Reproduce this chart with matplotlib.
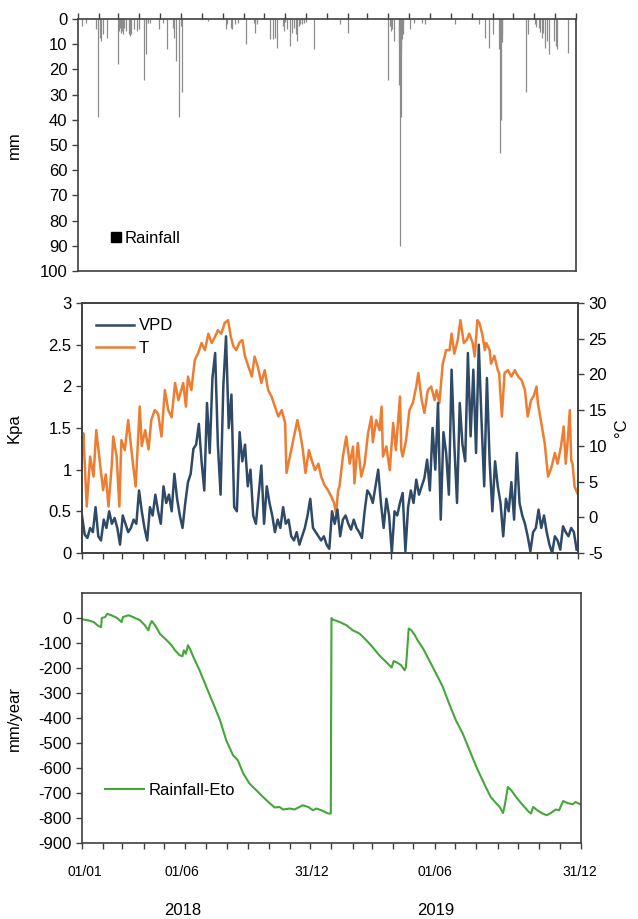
import matplotlib.pyplot as plt
import matplotlib.dates as mdates
from matplotlib.lines import Line2D
import numpy as np
import pandas as pd

plt.rcParams['font.family'] = ['Liberation Sans', 'DejaVu Sans']
plt.rcParams['axes.unicode_minus'] = False

start = pd.Timestamp('2018-01-01')

# daily rainfall events (day since 01/01/2018, mm)
rain_day = [6, 11, 26, 29, 32, 34, 36, 43, 58, 60, 61, 63, 64, 66, 68, 70,
            74, 76, 78, 82, 87, 90, 97, 99, 100, 102, 105, 118, 125, 130, 139, 141,
            143, 148, 151, 153, 191, 217, 219, 224, 226, 230, 235, 246, 258, 260, 263, 282,
            286, 289, 291, 300, 302, 303, 307, 311, 313, 317, 319, 321, 324, 326, 329, 331,
            334, 346,
            384, 396, 454, 457, 459, 460, 463, 470, 471, 472, 473, 474, 475, 476, 477, 486,
            492, 504, 508, 552, 588, 596, 602, 608, 617, 618, 619, 620, 621, 622, 657, 659,
            670, 672, 675, 677, 680, 682, 685, 687, 690, 698, 700, 702, 718]
rain_mm = [2.8, 1.5, 4, 39, 7.4, 8.8, 6, 7.4, 17.8, 4.8, 3.5, 5.5, 4.8, 6, 3.5, 4.8,
           6, 6.8, 6, 4, 4.8, 4, 24, 2, 14, 1.5, 1.5, 4, 1.5, 12, 3.5, 7.4,
           16.7, 38.7, 2.8, 29, 0.8, 4, 2, 3.5, 4, 2, 1.5, 10, 1.5, 5.4, 2, 8,
           8, 7.4, 11.4, 2.8, 4.8, 1, 4, 10.7, 5.5, 3.5, 6, 8.8, 2.8, 2, 2, 1.5,
           1, 12,
           1.9, 5.4, 24, 2.8, 4.8, 4, 8.8, 10, 26, 90, 39, 12, 8, 6, 2, 4,
           1.5, 1.5, 2, 2, 2, 7.4, 11.4, 6, 12, 10, 53, 40, 9, 6, 29, 6,
           2, 3, 3.5, 5, 7.4, 5.5, 11.4, 8.8, 14, 8.8, 10.7, 12, 13.5]

# VPD (kPa), every 4 days
vpd_day = np.arange(0, 729, 4)
vpd = [0.45, 0.22, 0.18, 0.3, 0.25, 0.55, 0.2, 0.15, 0.4, 0.3, 0.5, 0.35, 0.42, 0.3, 0.1, 0.45,
       0.35, 0.25, 0.3, 0.4, 0.35, 0.75, 0.5, 0.3, 0.15, 0.55, 0.45, 0.7, 0.5, 0.35, 0.8, 0.6,
       0.7, 0.5, 0.95, 0.65, 0.45, 0.3, 0.6, 0.85, 0.95, 1.25, 1.3, 1.55, 1.1,
       0.75, 1.8, 1.2, 2.1, 2.4, 1.3, 0.7, 2.0, 2.6, 1.5, 1.9, 0.55, 0.5, 1.45, 1.1, 1.3,
       0.8, 1.0, 0.45, 0.35, 0.7, 1.05, 0.35, 0.8, 0.6, 0.45, 0.25, 0.4, 0.3, 0.55, 0.35, 0.4,
       0.2, 0.15, 0.25, 0.1, 0.2, 0.3, 0.45, 0.65, 0.3, 0.25, 0.2, 0.15, 0.2, 0.1, 0.05,
       0.5, 0.35, 0.52, 0.2, 0.4, 0.45, 0.35, 0.28, 0.4, 0.3, 0.25, 0.18, 0.5, 0.75, 0.7, 0.6,
       0.8, 1.0, 0.6, 0.3, 0.65, 0.45, 0.0, 0.5, 0.45, 0.6, 0.72, 0.02, 0.55, 0.75, 0.6, 0.88,
       0.7, 0.8, 0.9, 1.12, 0.75, 1.5, 1.0, 1.8, 0.4, 1.45, 1.2, 0.7, 2.2, 1.3, 0.6,
       1.8, 1.3, 1.1, 2.4, 1.4, 2.2, 1.2, 2.5, 1.6, 0.8, 2.1, 1.1, 0.5, 1.1, 0.8, 0.6,
       0.2, 0.65, 0.5, 0.85, 0.4, 1.2, 0.6, 0.45, 0.35, 0.2, 0.02, 0.25, 0.3, 0.52, 0.3, 0.45,
       0.25, 0.1, 0.0, 0.2, 0.15, 0.04, 0.32, 0.25, 0.2, 0.3, 0.25, 0.04]

# air temperature (°C)
t_day = [0, 2, 7, 12, 17, 21, 26, 31, 35, 39, 44, 46, 51, 55, 58, 63, 68, 71, 75, 79,
         85, 88, 93, 98, 102, 107, 112, 117, 122, 127, 132, 137, 142, 149, 153, 156, 161, 166, 171, 176,
         181, 186, 191, 196, 200, 205, 210, 215, 219, 223, 227, 232, 236, 240, 245, 250, 254, 259, 264, 269,
         274, 279, 284, 289, 294, 299, 301, 306, 311, 317, 321, 325, 329, 334, 338, 343, 348, 352, 357, 362,
         367, 371, 374, 377, 379, 384, 389, 394, 399, 401, 406, 411, 416, 421, 426, 428, 433, 438, 441, 443,
         448, 453, 458, 462, 468, 470, 472, 477, 482, 487, 492, 495, 500, 504, 509, 514, 519, 522, 526, 531,
         536, 541, 544, 548, 553, 557, 562, 566, 570, 575, 578, 582, 585, 589, 593, 595, 600, 602, 607, 612,
         614, 618, 622, 627, 632, 637, 642, 647, 652, 656, 661, 665, 669, 671, 676, 681, 686, 691, 696, 700,
         705, 709, 712, 715, 718, 720, 722, 725, 729]
temp = [9, 11.75, 1.5, 8.5, 5.7, 12.2, 8, 3.8, 6, 1.5, 7.5, 11.3, 8.5, 1.5, 10.8, 9.4, 13.6, 11, 7.5, 4.3,
        15.5, 10, 12.2, 9.5, 13.6, 15, 14.5, 11.3, 17.8, 15, 14, 18.8, 16.4, 18.8, 15.5, 19.7, 17.8, 22, 23, 24.4,
        23.4, 25.7, 24.4, 25.3, 26.2, 25.7, 27.2, 27.6, 25.3, 23.9, 23.4, 24.5, 24.8, 22.5, 21.1, 19.7, 22.5, 21, 18.8, 20.6,
        17.8, 16.9, 15.5, 14.1, 15, 13.2, 6.2, 8.5, 10.8, 13.6, 11.8, 9.5, 6.2, 9.4, 8, 6.6, 7.5, 5.7, 4.5, 3.8,
        2.9, 2, 0.55, 3.8, 4.3, 8.5, 11.3, 7.5, 9.9, 4.75, 10.4, 5.7, 7.5, 11.75, 14.1, 10.5, 13.6, 12.2, 15.5, 8.5,
        9.9, 6.6, 13.2, 9.4, 16.9, 9.4, 8.5, 10.8, 15, 16, 18.3, 20.2, 16.4, 14.6, 17.8, 18.3, 16.4, 17.8, 16, 21.5,
        23.4, 23.4, 25.7, 22.9, 24.8, 27.6, 24.4, 24.8, 25.7, 24.4, 22.5, 27.6, 27.2, 25.7, 23.4, 24.4, 23.4, 21.5, 22.6, 20.6,
        20.2, 14.1, 20.2, 20.6, 19.7, 20.6, 19.7, 19.2, 17.8, 14.1, 16.4, 17, 18.3, 16, 13.2, 10.4, 5.7, 7, 9, 7.5,
        9.9, 12.7, 7.5, 10.8, 15, 8, 7.5, 4.3, 3.4]

# cumulative Rainfall - ETo (mm), reset each year
bal_day = [0, 9, 17, 24, 28, 29, 34, 37, 43, 51, 58, 60, 68, 73, 77, 85, 92, 97, 99, 102,
           107, 114, 124, 131, 136, 143, 147, 149, 152, 155, 158, 163, 172, 182, 192, 202, 211, 221, 228, 236,
           245, 255, 265, 275, 282, 289, 294, 304, 311, 318, 323, 331, 338, 343, 350, 360, 364,
           365, 367, 377, 387, 396, 406, 416, 425, 435, 445, 453, 456, 462, 467, 472, 474, 478, 482,
           487, 491, 499, 508, 518, 528, 537, 547, 557, 567, 577, 586, 593, 598, 603, 611, 616, 619, 623,
           628, 635, 645, 654, 657, 660, 666, 674, 680, 686, 693, 698, 704, 710, 718, 722, 729]
bal = [-5, -9, -16, -32, -36, 0, 4, 17, 11, 1, -16, 4, 11, 6, 1, -9, -29, -49, -30, -12,
       -29, -63, -89, -109, -129, -149, -153, -129, -143, -109, -123, -156, -209, -276, -342, -409, -489, -549, -569, -622,
       -662, -689, -716, -742, -758, -756, -766, -762, -766, -756, -749, -756, -769, -762, -769, -782, -782,
       0, -6, -16, -29, -49, -62, -89, -116, -149, -176, -198, -172, -180, -189, -209, -196, -42, -49,
       -69, -89, -122, -169, -222, -276, -342, -409, -462, -529, -596, -649, -689, -716, -732, -756, -780, -742, -676,
       -689, -716, -749, -776, -782, -756, -769, -782, -789, -780, -766, -769, -732, -740, -745, -736, -745]

# bottom axis labels
xlab_text = ['01/01', '01/06', '31/12', '01/06', '31/12']
xlab_day = [4, 146, 336, 517, 728]
year_text = ['2018', '2019']
year_day = [148, 517]


def to_date(days):
    return start + pd.to_timedelta(np.asarray(days), unit='D')


spine_c = '#404040'
fs = 12
x0, x1 = pd.Timestamp('2018-01-01'), pd.Timestamp('2020-01-01')


def style(ax):
    for s in ax.spines.values():
        s.set_color(spine_c)
        s.set_linewidth(1.2)
    ax.set_xlim(x0, x1)
    ax.xaxis.set_major_locator(mdates.MonthLocator())
    ax.tick_params(axis='both', colors=spine_c, labelcolor='black', labelsize=fs,
                   direction='out', length=4, width=1)
    ax.tick_params(axis='x', labelbottom=False, labeltop=False)


fig = plt.figure(figsize=(6.38, 9.19), dpi=100)

# rainfall
ax1 = fig.add_axes([0.1223, 0.7051, 0.7806, 0.2742])
ax1.vlines(to_date(rain_day), 0, rain_mm, color='#8c8c8c', lw=0.9)
style(ax1)
ax1.set_ylim(100, 0)
ax1.set_yticks(range(0, 101, 10))
ax1.xaxis.tick_top()
ax1.tick_params(axis='x', labeltop=False)
ax1.set_ylabel('mm', fontsize=fs)
ax1.yaxis.set_label_coords(-0.112, 0.5)
h = Line2D([], [], marker='s', color='black', linestyle='none', markersize=7)
ax1.legend([h], ['Rainfall'], loc='center left', bbox_to_anchor=(0.05, 0.13),
           frameon=False, fontsize=fs, handlelength=0.6, handletextpad=0.2, borderpad=0)

# VPD and T
ax2 = fig.add_axes([0.1285, 0.3983, 0.7774, 0.2720])
ax2t = ax2.twinx()
ax2t.plot(to_date(t_day), temp, color='#ED7D31', lw=1.8)
ax2.plot(to_date(vpd_day), vpd, color='#2F4A66', lw=1.8)
ax2.set_zorder(ax2t.get_zorder() + 1)
ax2.patch.set_visible(False)
style(ax2)
style(ax2t)
ax2.set_ylim(0, 3)
ax2.set_yticks([0, 0.5, 1, 1.5, 2, 2.5, 3])
ax2.set_yticklabels(['0', '0.5', '1', '1.5', '2', '2.5', '3'])
ax2t.set_ylim(-5, 30)
ax2t.set_yticks(range(-5, 31, 5))
ax2.set_ylabel('Kpa', fontsize=fs)
ax2.yaxis.set_label_coords(-0.121, 0.5)
ax2t.set_ylabel('°C', fontsize=fs)
ax2t.yaxis.set_label_coords(1.073, 0.5)
hv = Line2D([], [], color='#2F4A66', lw=1.8)
ht = Line2D([], [], color='#ED7D31', lw=1.8)
ax2.legend([hv, ht], ['VPD', 'T'], loc='upper left', bbox_to_anchor=(0.005, 0.985),
           frameon=False, fontsize=fs, handlelength=2.3, handletextpad=0.25,
           labelspacing=0.45, borderpad=0.2)

# cumulative rainfall - ETo
ax3 = fig.add_axes([0.1285, 0.0827, 0.7821, 0.2720])
ax3.plot(to_date(bal_day), bal, color='#45A63A', lw=1.5)
style(ax3)
ax3.set_ylim(-900, 100)
ax3.set_yticks(range(-900, 1, 100))
ax3.set_ylabel('mm/year', fontsize=fs)
ax3.yaxis.set_label_coords(-0.121, 0.5)
hg = Line2D([], [], color='#45A63A', lw=1.5)
ax3.legend([hg], ['Rainfall-Eto'], loc='center left', bbox_to_anchor=(0.03, 0.21),
           frameon=False, fontsize=fs, handlelength=2.3, handletextpad=0.3, borderpad=0)

trans = ax3.get_xaxis_transform()
for d, s in zip(xlab_day, xlab_text):
    ax3.text(to_date([d])[0], -0.115, s, transform=trans, ha='center', va='center', fontsize=10)
for d, s in zip(year_day, year_text):
    ax3.text(to_date([d])[0], -0.27, s, transform=trans, ha='center', va='center', fontsize=12)

fig.savefig('out.png', dpi=100)
